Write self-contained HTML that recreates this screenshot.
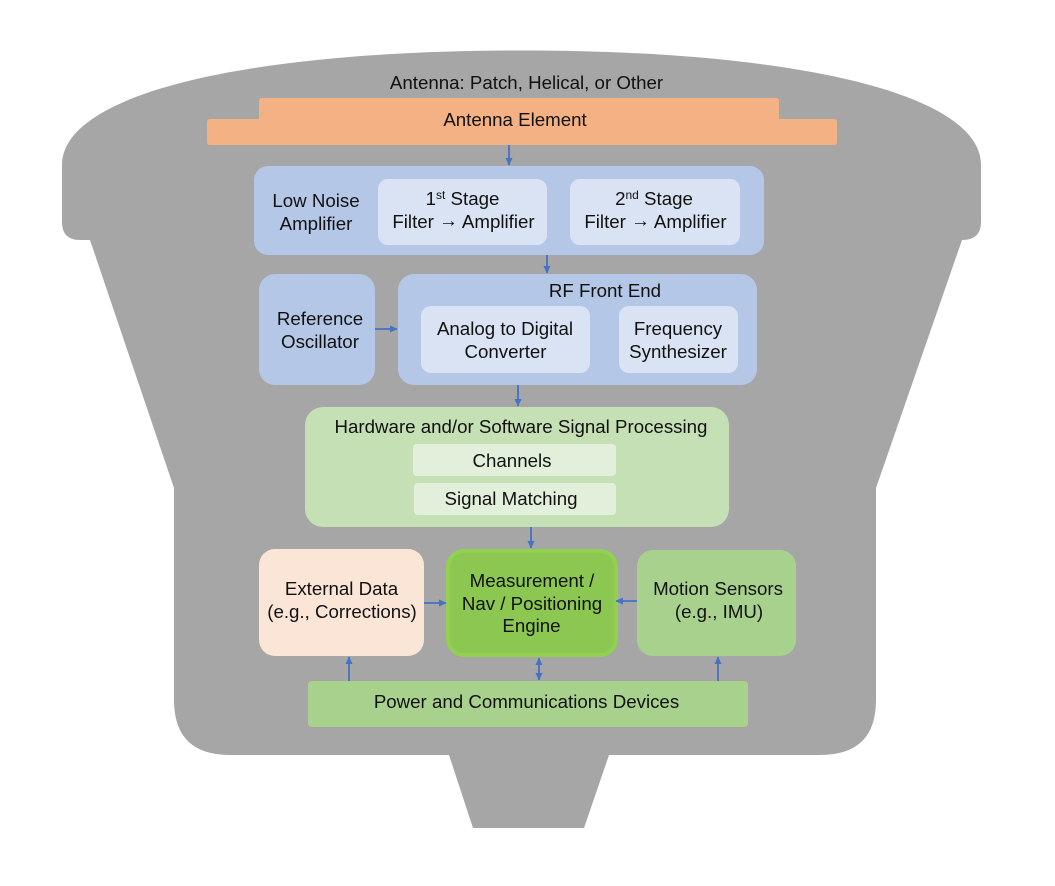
<!DOCTYPE html>
<html><head><meta charset="utf-8"><style>html,body{margin:0;padding:0;background:#fff}svg{display:block}text{font-family:"Liberation Sans",sans-serif;font-size:18.7px;fill:#111;text-anchor:middle}</style></head><body>
<svg width="1055" height="886" viewBox="0 0 1055 886" xmlns="http://www.w3.org/2000/svg">
<defs><marker id="a" markerWidth="8" markerHeight="8" refX="7" refY="4" orient="auto-start-reverse" markerUnits="userSpaceOnUse"><path d="M0 0.5L7.5 4L0 7.5Z" fill="#4472c4"/></marker></defs>
<path d="M62 165C62 95 240 50.5 521 50.5C802 50.5 981 95 981 165V222Q981 240 962 240L876 488V700Q876 755 820 755H609L584 828H473L449 755H230Q174 755 174 700V488L90 240H80Q62 240 62 222Z" fill="#a6a6a6"/>
<text x="526.5" y="89">Antenna: Patch, Helical, or Other</text>
<path d="M262 98H776Q779 98 779 101V119H834Q837 119 837 122V142Q837 145 834 145H210Q207 145 207 142V122Q207 119 210 119H259V101Q259 98 262 98Z" fill="#f4b183"/>
<text x="515" y="126">Antenna Element</text>
<rect x="254" y="166" width="510" height="89" rx="14" fill="#b4c7e7"/>
<text x="316" y="207">Low Noise</text><text x="316" y="230">Amplifier</text>
<rect x="378" y="179" width="169" height="66" rx="10" fill="#dae3f3"/>
<text x="462.5" y="205">1<tspan font-size="12" dy="-6">st</tspan><tspan dy="6"> Stage</tspan></text><text x="463.5" y="228">Filter <tspan dy="-1.5">→</tspan><tspan dy="1.5"> Amplifier</tspan></text>
<rect x="570" y="179" width="170" height="66" rx="10" fill="#dae3f3"/>
<text x="654" y="205">2<tspan font-size="12" dy="-6">nd</tspan><tspan dy="6"> Stage</tspan></text><text x="655.5" y="228">Filter <tspan dy="-1.5">→</tspan><tspan dy="1.5"> Amplifier</tspan></text>
<rect x="259" y="274" width="116" height="111" rx="16" fill="#b4c7e7"/>
<text x="320" y="325">Reference</text><text x="320" y="348">Oscillator</text>
<rect x="398" y="274" width="359" height="111" rx="16" fill="#b4c7e7"/>
<text x="605" y="297">RF Front End</text>
<rect x="421" y="306" width="169" height="67" rx="10" fill="#dae3f3"/>
<text x="505" y="335">Analog to Digital</text><text x="505.5" y="358">Converter</text>
<rect x="619" y="306" width="119" height="67" rx="10" fill="#dae3f3"/>
<text x="678" y="335">Frequency</text><text x="678" y="358">Synthesizer</text>
<rect x="305" y="407" width="424" height="120" rx="18" fill="#c5e0b4"/>
<text x="521" y="433">Hardware and/or Software Signal Processing</text>
<rect x="413" y="444" width="203" height="32" rx="4" fill="#e2efda"/><text x="512" y="467">Channels</text>
<rect x="414" y="483" width="202" height="32" rx="4" fill="#e2efda"/><text x="511" y="505">Signal Matching</text>
<rect x="259" y="549" width="165" height="107" rx="16" fill="#fbe5d6"/>
<text x="341.5" y="595">External Data</text><text x="342" y="618">(e.g., Corrections)</text>
<rect x="448" y="551" width="168" height="104" rx="16" fill="#8cc751" stroke="#92d050" stroke-width="4"/>
<text x="532" y="587">Measurement /</text><text x="532" y="610">Nav / Positioning</text><text x="531.5" y="632">Engine</text>
<rect x="637" y="550" width="159" height="106" rx="16" fill="#a9d18e"/>
<text x="718" y="595">Motion Sensors</text><text x="719" y="618">(e.g., IMU)</text>
<rect x="308" y="681" width="440" height="46" rx="4" fill="#a9d18e"/>
<text x="526.5" y="708">Power and Communications Devices</text>
<g stroke="#4472c4" stroke-width="1.8" fill="none">
<path d="M509 145V165" marker-end="url(#a)"/><path d="M547 255V273" marker-end="url(#a)"/>
<path d="M375 329H397" marker-end="url(#a)"/><path d="M518 385V406" marker-end="url(#a)"/>
<path d="M531 527V548" marker-end="url(#a)"/><path d="M424 603H446" marker-end="url(#a)"/>
<path d="M637 601H616" marker-end="url(#a)"/><path d="M349 681V657" marker-end="url(#a)"/>
<path d="M718 681V657" marker-end="url(#a)"/><path d="M539 658V680" marker-start="url(#a)" marker-end="url(#a)"/>
</g>
</svg></body></html>
